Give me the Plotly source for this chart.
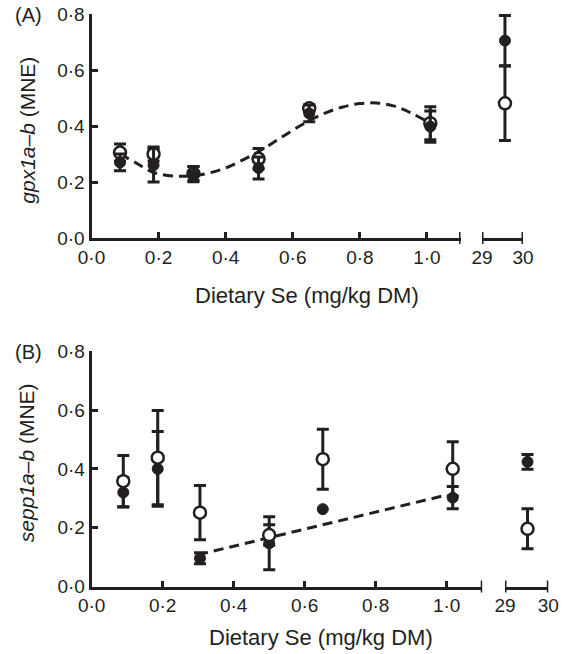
import plotly.graph_objects as go

# ---------------- data ----------------
y_ticks = [0.0, 0.2, 0.4, 0.6, 0.8]
y_tick_text = ["0·0", "0·2", "0·4", "0·6", "0·8"]
x_ticks = [0.0, 0.2, 0.4, 0.6, 0.8, 1.0]
x_tick_text = ["0·0", "0·2", "0·4", "0·6", "0·8", "1·0"]
x_ticks_hi = [29, 30]
x_tick_text_hi = ["29", "30"]

# Panel A  (gpx1a-b)
a_x = [0.085, 0.185, 0.304, 0.498, 0.649, 1.01]
a_filled = [0.270, 0.260, 0.228, 0.250, 0.445, 0.398]
a_filled_err = [0.030, 0.060, 0.027, 0.039, 0.030, 0.056]
a_open = [0.305, 0.300, 0.230, 0.283, 0.463, 0.410]
a_open_err = [0.031, 0.025, 0.025, 0.037, 0.012, 0.059]
a_x_hi = [29.56]
a_filled_hi = [0.705]
a_filled_hi_err = [0.090]
a_open_hi = [0.481]
a_open_hi_err = [0.133]
a_curve_x = [0.085, 0.13, 0.185, 0.25, 0.30, 0.35, 0.40, 0.45, 0.50, 0.55,
             0.60, 0.65, 0.70, 0.75, 0.80, 0.85, 0.90, 0.95, 1.01]
a_curve_y = [0.300, 0.270, 0.234, 0.221, 0.222, 0.232, 0.250, 0.278, 0.310, 0.347,
             0.385, 0.420, 0.448, 0.468, 0.480, 0.482, 0.472, 0.448, 0.410]

# Panel B  (sepp1a-b)
b_x = [0.089, 0.186, 0.305, 0.500, 0.651, 1.017]
b_filled = [0.320, 0.400, 0.096, 0.147, 0.263, 0.302]
b_filled_err = [0.050, 0.127, 0.019, 0.090, None, 0.038]
b_open = [0.358, 0.438, 0.251, 0.175, 0.433, 0.400]
b_open_err = [0.087, 0.160, 0.092, 0.035, 0.102, 0.092]
b_x_hi = [29.52]
b_filled_hi = [0.424]
b_filled_hi_err = [0.025]
b_open_hi = [0.196]
b_open_hi_err = [0.068]
b_line_x = [0.30, 1.0]
b_line_y = [0.108, 0.311]

# ---------------- styling ----------------
W, H = 562, 654
INK = "#231f20"
FONT = "Liberation Sans, Arial, sans-serif"


def fx(p):
    return p / W


def fy(p):
    return 1 - p / H


fig = go.Figure()


def add_points(xs, ys, errs, xa, ya, filled):
    with_err = [i for i, e in enumerate(errs) if e is not None]
    no_err = [i for i, e in enumerate(errs) if e is None]
    if filled:
        marker = dict(size=11, color=INK, line=dict(color=INK, width=1))
    else:
        marker = dict(size=12, color="white", line=dict(color=INK, width=2.5))
    if with_err:
        fig.add_trace(go.Scatter(
            x=[xs[i] for i in with_err], y=[ys[i] for i in with_err],
            mode="markers", marker=marker, xaxis=xa, yaxis=ya,
            error_y=dict(type="data", array=[errs[i] for i in with_err],
                         color=INK, thickness=3, width=6),
            showlegend=False, hoverinfo="skip"))
    if no_err:
        fig.add_trace(go.Scatter(
            x=[xs[i] for i in no_err], y=[ys[i] for i in no_err],
            mode="markers", marker=marker, xaxis=xa, yaxis=ya,
            showlegend=False, hoverinfo="skip"))


dash_line = dict(color=INK, width=3, dash="10px,6px")

# Panel A
fig.add_trace(go.Scatter(x=a_curve_x, y=a_curve_y, mode="lines", line=dict(shape="spline", **dash_line),
                         xaxis="x", yaxis="y", showlegend=False, hoverinfo="skip"))
add_points(a_x, a_open, a_open_err, "x", "y", False)
add_points(a_x, a_filled, a_filled_err, "x", "y", True)
add_points(a_x_hi, a_filled_hi, a_filled_hi_err, "x2", "y", True)
add_points(a_x_hi, a_open_hi, a_open_hi_err, "x2", "y", False)

# Panel B
fig.add_trace(go.Scatter(x=b_line_x, y=b_line_y, mode="lines", line=dash_line,
                         xaxis="x3", yaxis="y2", showlegend=False, hoverinfo="skip"))
add_points(b_x, b_filled, b_filled_err, "x3", "y2", True)
add_points(b_x, b_open, b_open_err, "x3", "y2", False)
add_points(b_x_hi, b_filled_hi, b_filled_hi_err, "x4", "y2", True)
add_points(b_x_hi, b_open_hi, b_open_hi_err, "x4", "y2", False)

tickfont = dict(family=FONT, size=19, color=INK)
common = dict(showgrid=False, zeroline=False, showline=True, linecolor=INK, linewidth=3,
              tickfont=tickfont, automargin=False, fixedrange=True, layer="above traces")


def xlo(domain, anchor):
    return dict(domain=domain, range=[0, 1.1], anchor=anchor, tickmode="array",
                tickvals=x_ticks, ticktext=x_tick_text, ticks="inside", ticklen=6,
                tickwidth=3, tickcolor=INK, **common)


def xhi(domain, anchor):
    return dict(domain=domain, range=[29, 30], anchor=anchor, tickmode="array",
                tickvals=x_ticks_hi, ticktext=x_tick_text_hi, ticks="", **common)


def yax(domain, anchor):
    return dict(domain=domain, range=[0, 0.8], anchor=anchor, tickmode="array",
                tickvals=y_ticks, ticktext=y_tick_text, ticks="inside", ticklen=6,
                tickwidth=3, tickcolor=INK, **common)


fig.update_layout(
    template="none",
    width=W, height=H,
    margin=dict(l=0, r=0, t=0, b=0, pad=0),
    paper_bgcolor="white", plot_bgcolor="white",
    showlegend=False,
    xaxis=xlo([fx(91.5), fx(460.5)], "y"),
    xaxis2=xhi([fx(482), fx(523)], "y"),
    yaxis=yax([fy(238), fy(14)], "x"),
    xaxis3=xlo([fx(91.7), fx(482.2)], "y2"),
    xaxis4=xhi([fx(505), fx(548.3)], "y2"),
    yaxis2=yax([fy(586.5), fy(351.2)], "x3"),
)

# axis break caps (paper coordinates, pixel-converted)
shapes = []
for xref, xv, ypix in [("x", 1.1, 238), ("x2", 29, 238), ("x2", 30, 238),
                       ("x3", 1.1, 586.5), ("x4", 29, 586.5), ("x4", 30, 586.5)]:
    shapes.append(dict(type="line", xref=xref, yref="paper", x0=xv, x1=xv,
                       y0=fy(ypix + 6), y1=fy(ypix - 6),
                       line=dict(color=INK, width=3), layer="above"))
fig.update_layout(shapes=shapes)

title_font = dict(family=FONT, size=22, color=INK)
ytitle_font = dict(family=FONT, size=21, color=INK)
label_font = dict(family=FONT, size=20, color=INK)
ann = [
    dict(text="(A)", x=fx(13), y=fy(15), xanchor="left", yanchor="middle", font=label_font),
    dict(text="(B)", x=fx(13), y=fy(352), xanchor="left", yanchor="middle", font=label_font),
    dict(text="Dietary Se (mg/kg DM)", x=fx(306.7), y=fy(295.7), xanchor="center",
         yanchor="middle", font=title_font),
    dict(text="Dietary Se (mg/kg DM)", x=fx(320.8), y=fy(637.3), xanchor="center",
         yanchor="middle", font=title_font),
    dict(text="<i>gpx1a–b</i> (MNE)", x=fx(26.7), y=fy(130), textangle=-90,
         xanchor="center", yanchor="middle", font=ytitle_font),
    dict(text="<i>sepp1a–b</i> (MNE)", x=fx(26.7), y=fy(462.5), textangle=-90,
         xanchor="center", yanchor="middle", font=ytitle_font),
]
for a in ann:
    a.update(xref="paper", yref="paper", showarrow=False)
fig.update_layout(annotations=ann)

fig.write_html("out.html", config={"displayModeBar": False},
               post_script="document.body.style.margin='0';document.body.style.overflow='hidden';")
